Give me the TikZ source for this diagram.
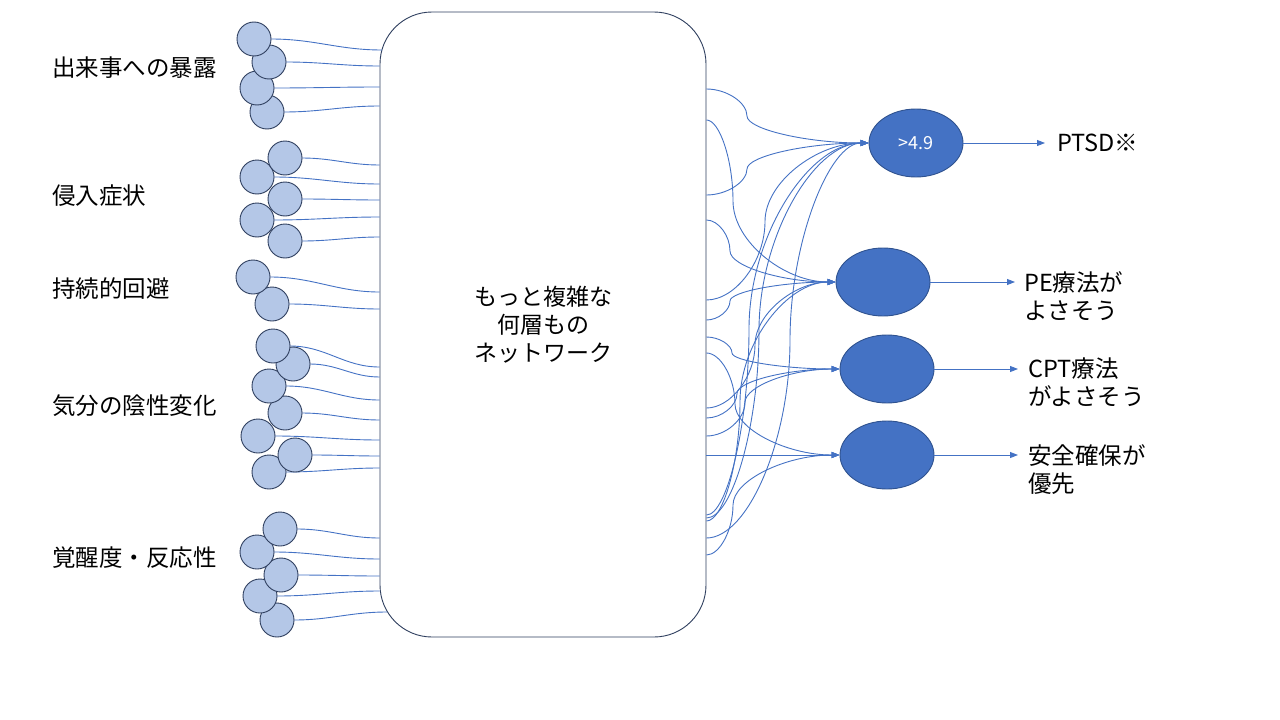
\documentclass[tikz,border=0pt]{standalone}
\usepackage{fontspec}
\setmainfont{Noto Sans CJK JP}
\usetikzlibrary{arrows.meta,shapes.geometric,calc}
\definecolor{lineblue}{HTML}{4472C4}
\definecolor{circfill}{HTML}{B4C7E7}
\definecolor{darkedge}{HTML}{2F3F5F}
\definecolor{elledge}{HTML}{2F528F}
\tikzset{
  inp/.style={circle, draw=darkedge, fill=circfill, line width=0.9pt, minimum size=34pt, inner sep=0pt},
  outell/.style={ellipse, draw=elledge, fill=lineblue, line width=0.9pt, minimum width=94pt, minimum height=68pt, inner sep=0pt},
  conn/.style={draw=lineblue, line width=0.9pt},
  arr/.style={conn, -{Triangle[length=8pt,width=6pt]}},
  lbl/.style={anchor=west, inner sep=0pt, font=\fontsize{23.5}{28}\selectfont, align=left},
  boxstyle/.style={draw=darkedge, fill=white, rounded corners=52pt, minimum width=326pt, minimum height=625pt, line width=0.9pt, align=center, font=\fontsize{23}{28}\selectfont},
}
% S-shaped connector: start, end node anchor, x of vertical middle
\newcommand\sconn[3]{\draw[arr] let \p1=(#1), \p2=(#2) in (\p1) .. controls ({(\x1+#3pt)/2},\y1) and ({#3pt},{\y1+(\y2-\y1)/4}) .. ({#3pt},{(\y1+\y2)/2}) .. controls ({#3pt},{\y1+3*(\y2-\y1)/4}) and ({(#3pt+\x2)/2},\y2) .. (\p2);}
\begin{document}
\begin{tikzpicture}[x=1pt,y=-1pt]
\useasboundingbox (0,0) rectangle (1280,720);

% main box
\node[boxstyle] (box) at (543,324.5) {もっと複雑な\\何層もの\\ネットワーク};

% left labels
\node[lbl] (g1) at (52,68) {出来事への暴露};
\node[lbl] (g2) at (52,196) {侵入症状};
\node[lbl] (g3) at (52,289) {持続的回避};
\node[lbl] (g4) at (52,406) {気分の陰性変化};
\node[lbl] (g5) at (52,558) {覚醒度・反応性};

% left end points on the box
\coordinate (L1) at (382,50);
\coordinate (L2) at (box.west |- 0,66);
\coordinate (L3) at (box.west |- 0,87);
\coordinate (L4) at (box.west |- 0,106);
\coordinate (L5) at (box.west |- 0,165);
\coordinate (L6) at (box.west |- 0,184);
\coordinate (L7) at (box.west |- 0,200);
\coordinate (L8) at (box.west |- 0,217);
\coordinate (L9) at (box.west |- 0,237);
\coordinate (L10) at (box.west |- 0,292);
\coordinate (L11) at (box.west |- 0,309);
\coordinate (L12) at (box.west |- 0,367);
\coordinate (L13) at (box.west |- 0,377);
\coordinate (L14) at (box.west |- 0,400);
\coordinate (L15) at (box.west |- 0,420);
\coordinate (L16) at (box.west |- 0,440);
\coordinate (L17) at (box.west |- 0,456);
\coordinate (L18) at (box.west |- 0,468);
\coordinate (L19) at (box.west |- 0,538);
\coordinate (L20) at (box.west |- 0,559);
\coordinate (L21) at (box.west |- 0,576);
\coordinate (L22) at (box.west |- 0,591);
\coordinate (L23) at (387,612);

% input circle positions
\path
  (254,39) coordinate (p1) (269,62) coordinate (p2) (257,88) coordinate (p3) (267,112) coordinate (p4)
  (285,158) coordinate (p5) (257,177) coordinate (p6) (285,199) coordinate (p7) (257,220) coordinate (p8) (285,241) coordinate (p9)
  (253,277) coordinate (p10) (272,304) coordinate (p11)
  (273,346) coordinate (p12) (293,364) coordinate (p13) (269,386) coordinate (p14) (285,413) coordinate (p15) (258,436) coordinate (p16) (295,455) coordinate (p17) (269,472) coordinate (p18)
  (280,529) coordinate (p19) (257,552) coordinate (p20) (281,575) coordinate (p21) (260,596) coordinate (p22) (277,620) coordinate (p23);

% left connectors (drawn under circles)
\foreach \i in {1,...,23} {
  \draw[conn] ($(p\i)+(17,0)$) to[out=0,in=180] (L\i);
}
\foreach \i in {23,22,...,1} {
  \node[inp] (c\i) at (p\i) {};
}

% output ellipses
\node[outell, text=white, font=\fontsize{18}{20}\selectfont] (e1) at (916,143) {>4.9};
\node[outell] (e2) at (883,282) {};
\node[outell] (e3) at (887,369) {};
\node[outell] (e4) at (887,455) {};

% right start points on the box
\foreach \y in {89,120,195,220,300,320,337,353,408,418,436,455,515,518,521,538,555} {
  \coordinate (R\y) at (box.east |- 0,\y);
}

% connectors to e1
\sconn{R89}{e1.west}{747}
\sconn{R195}{e1.west}{747}
\sconn{R300}{e1.west}{765}
\sconn{R515}{e1.west}{749}
\sconn{R518}{e1.west}{759}
\sconn{R538}{e1.west}{790}
% connectors to e2
\sconn{R120}{e2.west}{733}
\sconn{R220}{e2.west}{730}
\sconn{R320}{e2.west}{730}
\sconn{R408}{e2.west}{755}
\sconn{R521}{e2.west}{740}
% connectors to e3
\sconn{R337}{e3.west}{732}
\sconn{R418}{e3.west}{737}
\sconn{R436}{e3.west}{745}
% connectors to e4
\sconn{R353}{e4.west}{735}
\draw[arr] (R455) -- (e4.west);
\sconn{R555}{e4.west}{733}

% outputs
\node[lbl] (o1) at (1057,143) {PTSD※};
\node[lbl] (o2) at (1024,296.5) {PE療法が\\よさそう};
\node[lbl] (o3) at (1028,382) {CPT療法\\がよさそう};
\node[lbl] (o4) at (1028,470) {安全確保が\\優先};
\coordinate (t1) at (1045,143);
\coordinate (t2) at (1015,282);
\coordinate (t3) at (1018,369);
\coordinate (t4) at (1018,455);
\draw[arr] (e1.east) -- (t1);
\draw[arr] (e2.east) -- (t2);
\draw[arr] (e3.east) -- (t3);
\draw[arr] (e4.east) -- (t4);
\end{tikzpicture}
\end{document}
